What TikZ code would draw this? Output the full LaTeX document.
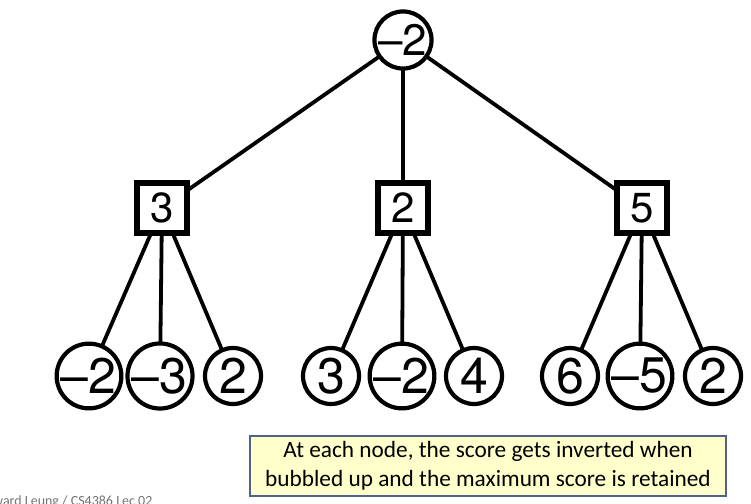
\documentclass[tikz,border=0pt]{standalone}
\usepackage{fontspec}
\setmainfont{TeX Gyre Heros}
\newfontfamily\calibri{Carlito}
\usetikzlibrary{backgrounds}
\definecolor{noteborder}{RGB}{79,98,140}
\definecolor{notefill}{RGB}{255,255,204}
\begin{document}
\begin{tikzpicture}[x=1pt,y=-1pt,
  rootnode/.style={circle,draw,line width=4.2pt,fill=white,minimum size=52pt,inner sep=0pt,font=\fontsize{44}{44}\selectfont},
  maxbox/.style={rectangle,draw,line width=5.5pt,fill=white,minimum size=50pt,inner sep=0pt,font=\fontsize{42}{42}\selectfont},
  leaf/.style={circle,draw,line width=4.2pt,fill=white,minimum size=56pt,inner sep=0pt,font=\fontsize{50}{50}\selectfont},
  edge/.style={line width=3.8pt},
  note/.style={draw=noteborder,line width=1.8pt,fill=notefill,minimum width=476pt,minimum height=60pt,align=center,font=\calibri\fontsize{23.3}{29}\selectfont},
  footer/.style={anchor=north west,inner sep=0pt,text=black!55,font=\calibri\fontsize{14}{14}\selectfont}]
\useasboundingbox (0,0) rectangle (751,503);
\clip (0,0) rectangle (751,503);
\node[rootnode] (r) at (403,40) {\kern-1pt–2};
\node[maxbox] (a) at (162,208) {3};
\node[maxbox] (b) at (403,208) {2};
\node[maxbox] (c) at (642,208) {5};
\node[leaf] (a1) at (89,376) {\kern-1.5pt–2};
\node[leaf] (a2) at (160,376) {\kern-1.5pt–3};
\node[leaf] (a3) at (233,376) {2};
\node[leaf] (b1) at (331,376) {3};
\node[leaf] (b2) at (402,376) {\kern-1.5pt–2};
\node[leaf] (b3) at (474,376) {4};
\node[leaf] (c1) at (570,376) {6};
\node[leaf] (c2) at (640,376) {\kern-1.5pt–5};
\node[leaf] (c3) at (713,376) {2};
\begin{scope}[on background layer]
\foreach \p/\q in {r/a,r/b,r/c,a/a1,a/a2,a/a3,b/b1,b/b2,b/b3,c/c1,c/c2,c/c3}{
  \draw[edge] (\p.center) -- (\q.center);
}
\end{scope}
\node[note] (n) at (488,466) {At each node, the score gets inverted when\\bubbled up and the maximum score is retained};
\node[footer] (f) at (-21,496) {Edward Leung / CS4386 Lec 02};
\end{tikzpicture}
\end{document}
